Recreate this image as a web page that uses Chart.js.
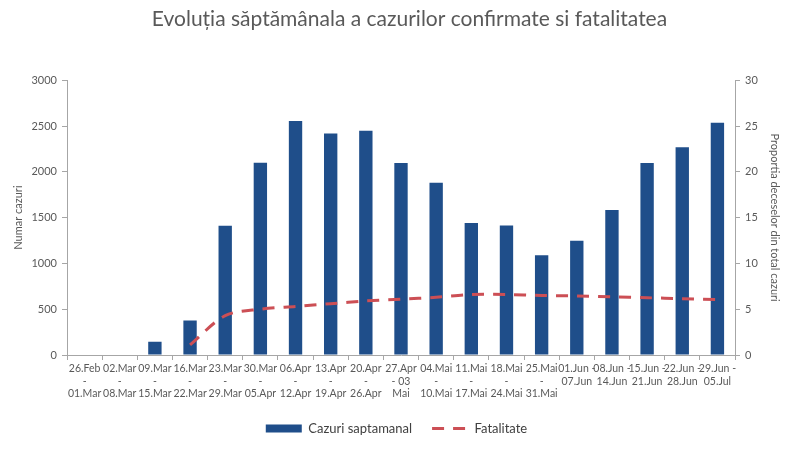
<!DOCTYPE html>
<html>
<head>
<meta charset="utf-8">
<script src="https://cdn.jsdelivr.net/npm/chart.js@4/dist/chart.umd.min.js"></script>
<style>
html,body{margin:0;padding:0;background:#fff;}
#wrap{width:800px;height:450px;position:relative;}
</style>
</head>
<body>
<div id="wrap"><canvas id="c" width="800" height="450"></canvas></div>
<script>
const categories = [
  ["26.Feb","-","01.Mar"],["02.Mar","-","08.Mar"],["09.Mar","-","15.Mar"],["16.Mar","-","22.Mar"],
  ["23.Mar","-","29.Mar"],["30.Mar","-","05.Apr"],["06.Apr","-","12.Apr"],["13.Apr","-","19.Apr"],
  ["20.Apr","-","26.Apr"],["27.Apr","- 03","Mai"],["04.Mai","-","10.Mai"],["11.Mai","-","17.Mai"],
  ["18.Mai","-","24.Mai"],["25.Mai","-","31.Mai"],["01.Jun -","07.Jun"],["08.Jun -","14.Jun"],
  ["15.Jun -","21.Jun"],["22.Jun -","28.Jun"],["29.Jun -","05.Jul"]
];
const cazuri = [0,6,145,378,1410,2100,2555,2418,2447,2095,1880,1442,1415,1088,1248,1583,2095,2268,2535];
const fatalitate = [null,null,null,1.1,4.3,5.0,5.3,5.6,5.9,6.1,6.3,6.6,6.6,6.5,6.45,6.35,6.25,6.15,6.05];
const leftTicks = [0,500,1000,1500,2000,2500,3000];
const rightTicks = [0,5,10,15,20,25,30];

const FONT = "Lato, 'Open Sans', sans-serif";
const grey = '#595959';
const axisGrey = '#a6a6a6';

const shiftTitle = {
  id: 'shiftTitle',
  afterLayout(chart) {
    const t = chart.titleBlock;
    if (t) { t.left += 13; t.right += 13; }
  }
};

new Chart(document.getElementById('c'), {
  data: {
    labels: categories,
    datasets: [
      {
        type: 'bar', label: 'Cazuri saptamanal', data: cazuri, yAxisID: 'y',
        backgroundColor: '#1f4e8a', borderWidth: 0,
        barPercentage: 0.38, categoryPercentage: 1.0, pointStyle: 'rect', order: 2
      },
      {
        type: 'line', label: 'Fatalitate', data: fatalitate, yAxisID: 'y1',
        borderColor: '#cc4f55', backgroundColor: '#cc4f55', borderWidth: 3,
        borderDash: [12, 9], pointRadius: 0, tension: 0.3, spanGaps: false,
        pointStyle: 'line', order: 1
      }
    ]
  },
  plugins: [shiftTitle],
  options: {
    responsive: false, animation: false,
    layout: { padding: { top: 0, bottom: 5, left: 8, right: 15 } },
    plugins: {
      title: {
        display: true,
        text: 'Evoluția săptămânala a cazurilor confirmate si fatalitatea',
        color: grey, font: { family: FONT, size: 21, weight: 'normal' },
        padding: { top: 7, bottom: 48 }
      },
      legend: {
        position: 'bottom',
        labels: {
          usePointStyle: true, pointStyleWidth: 36, boxWidth: 36, boxHeight: 8,
          color: '#404040', font: { family: FONT, size: 13 }, padding: 20,
          sort: (a, b) => a.datasetIndex - b.datasetIndex,
          generateLabels: chart => {
            const items = Chart.defaults.plugins.legend.labels.generateLabels(chart);
            items.forEach(it => {
              const ds = chart.data.datasets[it.datasetIndex];
              if (ds.type === 'line') {
                it.lineDash = ds.borderDash;
                it.strokeStyle = ds.borderColor;
                it.lineWidth = ds.borderWidth;
                it.lineCap = 'butt';
              } else {
                it.lineWidth = 0;
              }
            });
            return items;
          }
        }
      },
      tooltip: { enabled: false }
    },
    scales: {
      x: {
        grid: { display: true, drawOnChartArea: false, offset: true, tickLength: 5, color: axisGrey },
        border: { color: axisGrey },
        ticks: { color: grey, font: { family: FONT, size: 10.5, lineHeight: 1.15 }, maxRotation: 0, autoSkip: false, padding: 3 },
        afterFit: s => { s.height = 47; }
      },
      y: {
        position: 'left', min: 0, max: 3000,
        afterBuildTicks: s => { s.ticks = leftTicks.map(v => ({ value: v })); },
        grid: { display: true, drawOnChartArea: false, tickLength: 5, color: axisGrey },
        border: { color: axisGrey },
        ticks: { color: grey, font: { family: FONT, size: 11 }, padding: 5, callback: v => String(v) },
        title: { display: true, text: 'Numar cazuri', color: grey, font: { family: FONT, size: 11 }, padding: 4 },
        afterFit: s => { s.width = 59; }
      },
      y1: {
        position: 'right', min: 0, max: 30,
        afterBuildTicks: s => { s.ticks = rightTicks.map(v => ({ value: v })); },
        grid: { display: true, drawOnChartArea: false, tickLength: 5, color: axisGrey },
        border: { color: axisGrey },
        ticks: { color: grey, font: { family: FONT, size: 11 }, padding: 5, callback: v => String(v) },
        title: { display: true, text: 'Proportia deceselor din total cazuri', color: grey, font: { family: FONT, size: 11 }, padding: 4 },
        afterFit: s => { s.width = 50; }
      }
    }
  }
});
</script>
</body>
</html>
